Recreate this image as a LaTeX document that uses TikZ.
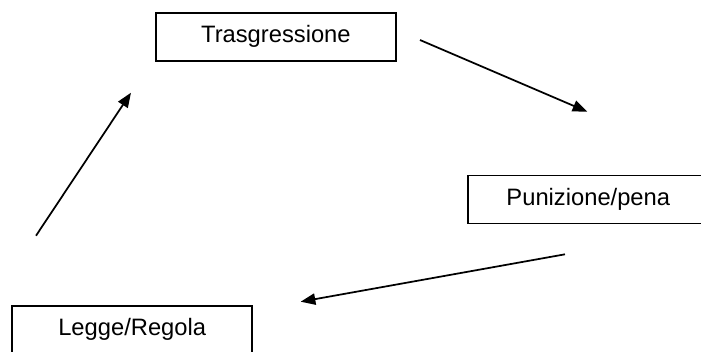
\documentclass[tikz,border=0pt]{standalone}
\usepackage{fontspec}
\setmainfont{Liberation Sans}
\usepackage{tikz}
\usetikzlibrary{arrows.meta}

\begin{document}
\begin{tikzpicture}[x=0.75pt,y=0.75pt,yscale=-1,xscale=1,
  casella/.style={draw, line width=1.3pt, inner sep=0pt, minimum height=36pt,
    font=\fontsize{17.8}{20}\selectfont},
  freccia/.style={line width=1.3pt, -{Triangle[length=11pt,width=8.5pt]}}]
%set diagram size 701 x 351
\clip (0,0) rectangle (701,351);

% Text Node
\node (trasg) [casella, minimum width=180pt] at (275.9,36.7) {Trasgressione};
% Text Node
\node (pena) [casella, minimum width=181pt] at (588.3,199.5) {Punizione/pena};
% Text Node
\node (legge) [casella, minimum width=180pt] at (132.2,329.7) {Legge/Regola};

%Straight Lines
\coordinate (a1) at (420,40);
\coordinate (a2) at (587.3,111.7);
\draw [freccia] (a1) -- (a2);

%Straight Lines
\coordinate (b1) at (565,254.3);
\coordinate (b2) at (300.7,301.7);
\draw [freccia] (b1) -- (b2);

%Straight Lines
\coordinate (c1) at (36,235.7);
\coordinate (c2) at (131,92.7);
\draw [freccia] (c1) -- (c2);

\end{tikzpicture}
\end{document}
